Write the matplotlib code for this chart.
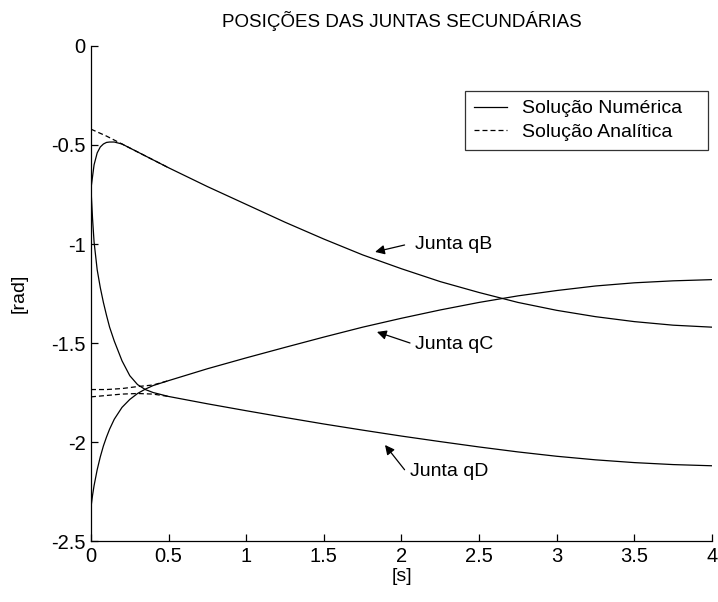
import matplotlib.pyplot as plt

plt.rcParams["font.family"] = ["Liberation Sans", "DejaVu Sans"]
plt.rcParams["axes.unicode_minus"] = False

# --- Numerical solution (time in s, joint positions in rad) ---
t_num = [0, 0.01, 0.02, 0.04, 0.06, 0.08, 0.1, 0.12, 0.15, 0.2, 0.25, 0.3,
         0.35, 0.4, 0.5, 0.75, 1.0, 1.25, 1.5, 1.75, 2.0, 2.25, 2.5, 2.75,
         3.0, 3.25, 3.5, 3.75, 4.0]
qB_num = [-0.72, -0.66, -0.60, -0.54, -0.51, -0.495, -0.487, -0.485, -0.485,
          -0.495, -0.515, -0.535, -0.555, -0.575, -0.615, -0.71, -0.80,
          -0.89, -0.975, -1.055, -1.125, -1.19, -1.245, -1.295, -1.335,
          -1.367, -1.392, -1.41, -1.42]
qC_num = [-2.33, -2.27, -2.22, -2.14, -2.075, -2.02, -1.975, -1.935, -1.885,
          -1.825, -1.785, -1.755, -1.733, -1.715, -1.69, -1.63, -1.575,
          -1.522, -1.47, -1.42, -1.375, -1.333, -1.295, -1.262, -1.235,
          -1.212, -1.196, -1.186, -1.18]
qD_num = [-0.72, -0.87, -0.99, -1.13, -1.22, -1.295, -1.36, -1.42, -1.49,
          -1.59, -1.665, -1.71, -1.735, -1.75, -1.77, -1.807, -1.842,
          -1.876, -1.909, -1.94, -1.97, -1.998, -2.025, -2.05, -2.072,
          -2.09, -2.104, -2.114, -2.12]

# --- Analytic solution (only differs from the numerical one at the start) ---
t_ana = [0, 0.1, 0.2, 0.3, 0.4, 0.5]
qB_ana = [-0.42, -0.455, -0.495, -0.535, -0.575, -0.615]
qC_ana = [-1.735, -1.735, -1.73, -1.72, -1.712, -1.69]
qD_ana = [-1.772, -1.765, -1.758, -1.755, -1.758, -1.77]

xticks = [0, 0.5, 1, 1.5, 2, 2.5, 3, 3.5, 4]
xticklabels = ["0", "0.5", "1", "1.5", "2", "2.5", "3", "3.5", "4"]
yticks = [-2.5, -2, -1.5, -1, -0.5, 0]
yticklabels = ["-2.5", "-2", "-1.5", "-1", "-0.5", "0"]

fig = plt.figure(figsize=(7.18, 6.02), dpi=100)
ax = fig.add_axes([0.1267, 0.1013, 0.8649, 0.8223])

lw = 0.9
dash = (4.0, 2.4)
ax.plot(t_num, qB_num, color="black", lw=lw, label="Solução Numérica")
ax.plot(t_num, qC_num, color="black", lw=lw)
ax.plot(t_num, qD_num, color="black", lw=lw)
ax.plot(t_ana, qB_ana, color="black", lw=lw, dashes=dash,
        label="Solução Analítica")
ax.plot(t_ana, qC_ana, color="black", lw=lw, dashes=dash)
ax.plot(t_ana, qD_ana, color="black", lw=lw, dashes=dash)

ax.set_xlim(0, 4)
ax.set_ylim(-2.5, 0)
ax.set_xticks(xticks)
ax.set_xticklabels(xticklabels)
ax.set_yticks(yticks)
ax.set_yticklabels(yticklabels)
ax.tick_params(direction="in", length=5, width=0.9, labelsize=14.5, pad=4)

for side in ("top", "right"):
    ax.spines[side].set_visible(False)
for side in ("left", "bottom"):
    ax.spines[side].set_linewidth(0.9)

ax.set_title("POSIÇÕES DAS JUNTAS SECUNDÁRIAS", fontsize=13.5, pad=14)
ax.set_xlabel("[s]", fontsize=14, labelpad=2)
ax.set_ylabel("[rad]", fontsize=14, labelpad=17)

# Arrow labels for each joint
arrow = dict(arrowstyle="-|>", color="black", lw=0.9,
             mutation_scale=14, shrinkA=0, shrinkB=0)
ax.annotate("", xy=(1.83, -1.04), xytext=(2.02, -1.005), arrowprops=arrow)
ax.text(2.087, -1.005, "Junta qB", fontsize=14, va="center", ha="left")
ax.annotate("", xy=(1.842, -1.444), xytext=(2.055, -1.50), arrowprops=arrow)
ax.text(2.087, -1.51, "Junta qC", fontsize=14, va="center", ha="left")
ax.annotate("", xy=(1.894, -2.015), xytext=(2.02, -2.14), arrowprops=arrow)
ax.text(2.055, -2.15, "Junta qD", fontsize=14, va="center", ha="left")

leg = ax.legend(loc="upper left", bbox_to_anchor=(0.602, 0.794, 0.392, 0.115),
                mode="expand", fontsize=14, frameon=True, fancybox=False,
                handlelength=1.7, handletextpad=0.8, borderpad=0.45,
                labelspacing=0.3, borderaxespad=0)
leg.get_frame().set_edgecolor("black")
leg.get_frame().set_linewidth(0.9)

fig.savefig("out.png", dpi=100)
